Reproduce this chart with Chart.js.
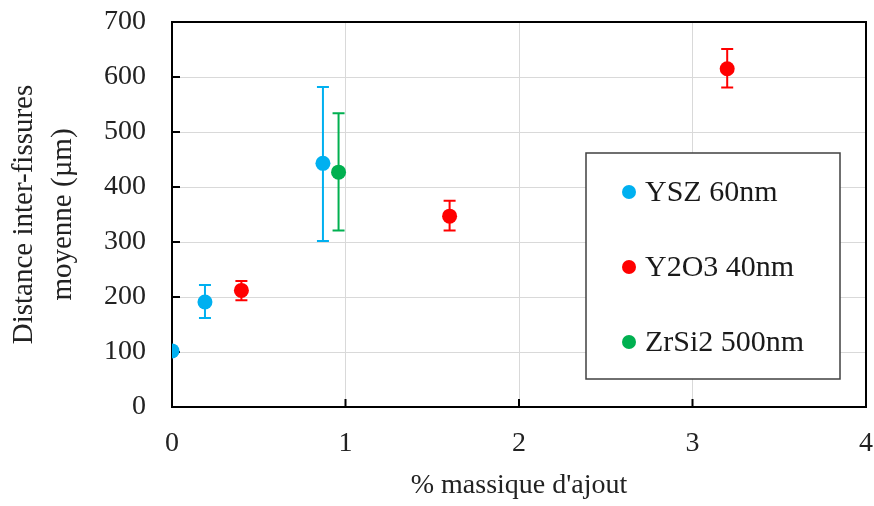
<!DOCTYPE html>
<html>
<head>
<meta charset="utf-8">
<script src="https://cdn.jsdelivr.net/npm/chart.js@4"></script>
<style>
  html, body { margin: 0; padding: 0; background: #fff; }
  #wrap { width: 874px; height: 506px; }
</style>
</head>
<body>
<div id="wrap"><canvas id="grafico" width="874" height="506"></canvas></div>
<script>
// Données
const seriesNames = ['YSZ 60nm', 'Y2O3 40nm', 'ZrSi2 500nm'];
const seriesColors = ['#00B0F0', '#FF0000', '#00B050'];

const yszX = [0, 0.19, 0.87];
const yszY = [102, 191, 443];
const yszLow = [null, 162, 302];
const yszHigh = [null, 222, 582];

const y2o3X = [0.4, 1.6, 3.2];
const y2o3Y = [212, 347, 615];
const y2o3Low = [194, 321, 581];
const y2o3High = [229, 375, 651];

const zrsi2X = [0.96];
const zrsi2Y = [427];
const zrsi2Low = [321];
const zrsi2High = [534];

const xTicks = [0, 1, 2, 3, 4];
const yTicks = [0, 100, 200, 300, 400, 500, 600, 700];

const FONT = 'Liberation Serif';

function points(xs, ys, lo, hi) {
    return xs.map((x, i) => ({ x: x, y: ys[i], lo: lo[i], hi: hi[i] }));
}

// Barres d'erreur
const errorBars = {
    id: 'errorBars',
    beforeDatasetsDraw(chart) {
        const ctx = chart.ctx;
        const ys = chart.scales.y;
        chart.data.datasets.forEach((ds, di) => {
            const meta = chart.getDatasetMeta(di);
            meta.data.forEach((el, i) => {
                const p = ds.data[i];
                if (p.lo == null || p.hi == null) return;
                const px = el.x;
                const yl = ys.getPixelForValue(p.lo);
                const yh = ys.getPixelForValue(p.hi);
                ctx.save();
                ctx.strokeStyle = ds.backgroundColor;
                ctx.lineWidth = 2;
                ctx.beginPath();
                ctx.moveTo(px, yl); ctx.lineTo(px, yh);
                ctx.moveTo(px - 6, yl); ctx.lineTo(px + 6, yl);
                ctx.moveTo(px - 6, yh); ctx.lineTo(px + 6, yh);
                ctx.stroke();
                ctx.restore();
            });
        });
    }
};

// Cadre, graduations intérieures et légende
const frame = {
    id: 'frame',
    beforeDatasetsDraw(chart) {
        const ctx = chart.ctx;
        const a = chart.chartArea;
        const xs = chart.scales.x, ys = chart.scales.y;
        ctx.save();
        ctx.strokeStyle = '#000';
        ctx.lineWidth = 2;
        ctx.strokeRect(a.left, a.top, a.right - a.left, a.bottom - a.top);
        ctx.beginPath();
        yTicks.forEach(v => {
            const py = ys.getPixelForValue(v);
            ctx.moveTo(a.left, py); ctx.lineTo(a.left + 8, py);
        });
        xTicks.forEach(v => {
            const px = xs.getPixelForValue(v);
            ctx.moveTo(px, a.bottom); ctx.lineTo(px, a.bottom - 8);
        });
        ctx.stroke();
        ctx.restore();
    },
    afterDraw(chart) {
        const ctx = chart.ctx;
        const bx = 586, by = 153, bw = 254, bh = 226;
        ctx.save();
        ctx.fillStyle = '#fff';
        ctx.fillRect(bx, by, bw, bh);
        ctx.strokeStyle = '#404040';
        ctx.lineWidth = 1.5;
        ctx.strokeRect(bx, by, bw, bh);
        ctx.font = '30px "Liberation Serif"';
        ctx.textBaseline = 'middle';
        seriesNames.forEach((name, i) => {
            const cy = by + 39 + i * 75;
            ctx.fillStyle = seriesColors[i];
            ctx.beginPath();
            ctx.arc(bx + 43, cy, 7, 0, Math.PI * 2);
            ctx.fill();
            ctx.fillStyle = '#1a1a1a';
            ctx.fillText(name, bx + 59, cy + 1);
        });
        ctx.restore();
    }
};

const ctx = document.getElementById('grafico').getContext('2d');
const myChart = new Chart(ctx, {
    type: 'scatter',
    data: {
        datasets: [
            { label: seriesNames[0], data: points(yszX, yszY, yszLow, yszHigh), backgroundColor: seriesColors[0], borderColor: seriesColors[0] },
            { label: seriesNames[1], data: points(y2o3X, y2o3Y, y2o3Low, y2o3High), backgroundColor: seriesColors[1], borderColor: seriesColors[1] },
            { label: seriesNames[2], data: points(zrsi2X, zrsi2Y, zrsi2Low, zrsi2High), backgroundColor: seriesColors[2], borderColor: seriesColors[2] }
        ]
    },
    options: {
        responsive: false,
        animation: false,
        layout: { padding: { top: 22, right: 8, left: 0, bottom: 0 } },
        elements: { point: { radius: 7.5, borderWidth: 0, hoverRadius: 7.5 } },
        plugins: { legend: { display: false }, tooltip: { enabled: false } },
        scales: {
            x: {
                type: 'linear', min: 0, max: 4,
                afterBuildTicks: s => { s.ticks = xTicks.map(v => ({ value: v })); },
                afterFit: s => { s.height = 99; s.paddingLeft = 0; s.paddingRight = 0; },
                grid: { color: '#d9d9d9', lineWidth: 1, drawTicks: false },
                border: { display: false },
                ticks: { color: '#222', padding: 20, font: { family: FONT, size: 28 } },
                title: { display: true, text: "% massique d'ajout", color: '#222', padding: { top: 17 }, font: { family: FONT, size: 28 } }
            },
            y: {
                type: 'linear', min: 0, max: 700,
                afterBuildTicks: s => { s.ticks = yTicks.map(v => ({ value: v })); },
                afterFit: s => { s.width = 172; s.paddingTop = 0; s.paddingBottom = 0; },
                grid: { color: '#d9d9d9', lineWidth: 1, drawTicks: false },
                border: { display: false },
                ticks: { color: '#222', padding: 26, font: { family: FONT, size: 28 } },
                title: { display: true, text: ['Distance inter-fissures', 'moyenne (µm)'], color: '#222', padding: { top: 5 }, font: { family: FONT, size: 29, lineHeight: 1.35 } }
            }
        }
    },
    plugins: [errorBars, frame]
});
</script>
</body>
</html>
